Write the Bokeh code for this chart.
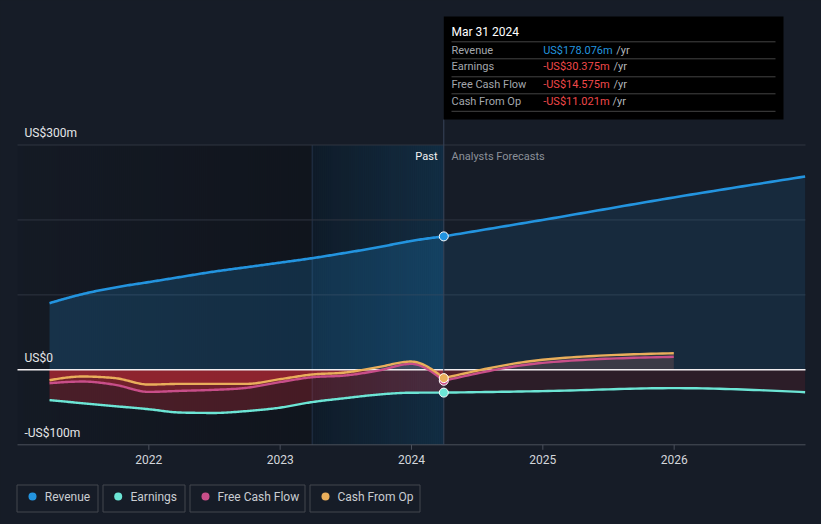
import re
import numpy as np
import pandas as pd
from bokeh.plotting import figure
from bokeh.models import Range1d
from bokeh.core.properties import value
from bokeh.embed import file_html
from bokeh.resources import INLINE

# ---------------- data (US$ millions) ----------------
past_dates = ["2021-03-31", "2021-06-30", "2021-09-30", "2021-12-31",
              "2022-03-31", "2022-06-30", "2022-09-30", "2022-12-31",
              "2023-03-31", "2023-06-30", "2023-09-30", "2023-12-31",
              "2024-03-31"]
revenue_past = [89, 101, 110, 117, 124, 131, 137, 143, 149, 156, 163.5, 172, 178.076]
earnings_past = [-40.4, -44.5, -48.5, -52.5, -57, -57.5, -55, -50.5, -43, -37.8, -33, -30.5, -30.375]
fcf_past = [-17.8, -15.6, -20, -29.4, -28, -26.7, -24, -16.4, -9.8, -7.6, -1, 8, -14.575]
cfo_past = [-13.8, -8.9, -11.1, -19.6, -18.7, -18.7, -18.7, -12.5, -6.2, -3.6, 3.6, 11.1, -11.021]

forecast_dates = ["2024-03-31", "2024-12-31", "2025-12-31", "2026-12-31"]
revenue_forecast = [178.076, 200.0, 230.0, 258.0]
earnings_forecast = [-30.375, -28.4, -24.4, -29.8]
cash_forecast_dates = ["2024-03-31", "2024-12-31", "2025-12-31"]
fcf_forecast = [-14.575, 9.3, 17.4]
cfo_forecast = [-11.021, 13.4, 22.2]

highlight_start = "2023-03-31"
tick_years = [2022, 2023, 2024, 2025, 2026]
tick_labels = ["2022", "2023", "2024", "2025", "2026"]
grid_values = [100, 200, 300]
y_label_values = [300, 0, -100]
y_label_texts = ["US$300m", "US$0", "-US$100m"]

series_names = ["Revenue", "Earnings", "Free Cash Flow", "Cash From Op"]
series_colors = ["#2394DF", "#6CE5D5", "#C84E89", "#E9AE5B"]

tooltip_title = "Mar 31 2024"
tooltip_values = ["US$178.076m", "-US$30.375m", "-US$14.575m", "-US$11.021m"]
tooltip_value_colors = ["#2394DF", "#F0484A", "#F0484A", "#F0484A"]

# ---------------- helpers ----------------
def decimal_year(s):
    t = pd.Timestamp(s)
    y0 = pd.Timestamp(year=t.year, month=1, day=1)
    y1 = pd.Timestamp(year=t.year + 1, month=1, day=1)
    return t.year + (t - y0) / (y1 - y0)


def monotone_curve(xs, ys, steps=24):
    x = np.asarray(xs, float)
    y = np.asarray(ys, float)
    n = len(x)
    h = np.diff(x)
    s = np.diff(y) / h
    m = np.zeros(n)
    for i in range(1, n - 1):
        s0, s1 = s[i - 1], s[i]
        p_ = (s0 * h[i] + s1 * h[i - 1]) / (h[i - 1] + h[i])
        m[i] = (np.sign(s0) + np.sign(s1)) * min(abs(s0), abs(s1), 0.5 * abs(p_))
    if n > 2:
        m[0] = (3 * s[0] - m[1]) / 2
        m[-1] = (3 * s[-1] - m[-2]) / 2
    else:
        m[:] = s[0]
    xo, yo = [], []
    for i in range(n - 1):
        t = np.linspace(0, 1, steps, endpoint=(i == n - 2))
        h00 = 2 * t**3 - 3 * t**2 + 1
        h10 = t**3 - 2 * t**2 + t
        h01 = -2 * t**3 + 3 * t**2
        h11 = t**3 - t**2
        yo.extend(h00 * y[i] + h10 * h[i] * m[i] + h01 * y[i + 1] + h11 * h[i] * m[i + 1])
        xo.extend(x[i] + t * h[i])
    return np.array(xo), np.array(yo)


BG = "#161c27"
FONT = value("Roboto")

W, H = 821, 524
# pixel anchors of the plotting area (page px)
PX_LEFT, PX_RIGHT = 17.0, 805.0      # 2021.0 .. 2027.0
PY_TOP, PY_BOTTOM = 144.5, 444.3     # 300 .. -100
YR0, YR1 = 2021.0, 2027.0
V0, V1 = -100.0, 300.0
sx = (PX_RIGHT - PX_LEFT) / (YR1 - YR0)
sy = (PY_BOTTOM - PY_TOP) / (V1 - V0)
x_start = YR0 - PX_LEFT / sx
x_end = YR0 + (W - PX_LEFT) / sx
y_end = V1 + PY_TOP / sy
y_start = V1 - (H - PY_TOP) / sy


def X(px):
    return x_start + px / sx


def Y(py):
    return y_end - py / sy


def PX(x):
    return (x - x_start) * sx


xp = [decimal_year(d) for d in past_dates]
xf = [decimal_year(d) for d in forecast_dates]
xcf = [decimal_year(d) for d in cash_forecast_dates]
x_hl = decimal_year(highlight_start)
x_now = xp[-1]

p = figure(width=W, height=H, x_range=Range1d(x_start, x_end), y_range=Range1d(y_start, y_end),
           output_backend="svg", toolbar_location=None, x_axis_location=None,
           y_axis_location=None, min_border=0)
p.background_fill_color = BG
p.border_fill_color = BG
p.outline_line_color = None
p.grid.visible = False
p.styles = {"background-color": BG}

# past background: darkening gradient in whole-pixel strips (no seams)
def strips(px0, px1, step):
    e = np.arange(int(round(px0)), int(round(px1)) + 1, step).astype(float)
    if e[-1] < round(px1):
        e = np.append(e, float(round(px1)))
    return [X(v) for v in e[:-1]], [X(v) for v in e[1:]]

l, r = strips(PX_LEFT, PX(x_hl), 2)
n = len(l)
p.quad(left=l, right=r, top=[V1] * n, bottom=[V0] * n, fill_color="#000000",
       fill_alpha=list(np.linspace(0.05, 0.25, n)), line_color=None)
# last year of the past: dark base plus blue gradient
l, r = strips(PX(x_hl), PX(x_now), 2)
n = len(l)
p.quad(left=l, right=r, top=[V1] * n, bottom=[V0] * n, fill_color="#0f1a26",
       fill_alpha=1.0, line_color=None)
p.quad(left=l, right=r, top=[V1] * n, bottom=[V0] * n, fill_color="#2394DF",
       fill_alpha=list(np.linspace(0.02, 0.16, n)), line_color=None)
p.segment(x0=[x_hl], y0=[V1], x1=[x_hl], y1=[V0], line_color="#23344a", line_width=1)

# gridlines
p.segment(x0=[YR0] * 3, y0=grid_values, x1=[YR1] * 3, y1=grid_values,
          line_color="#2f3540", line_width=1)

# series curves
past_series = [revenue_past, earnings_past, fcf_past, cfo_past]
fc_series = [(xf, revenue_forecast), (xf, earnings_forecast), (xcf, fcf_forecast), (xcf, cfo_forecast)]
curves = []
for ys_p, (xs_f, ys_f) in zip(past_series, fc_series):
    curves.append((monotone_curve(xp, ys_p), monotone_curve(xs_f, ys_f)))

# revenue fill
(rxp, ryp), (rxf, ryf) = curves[0]
p.varea(x=rxp, y1=0, y2=ryp, fill_color="#2394DF", fill_alpha=0.2)
p.varea(x=rxf, y1=0, y2=ryf, fill_color="#2394DF", fill_alpha=0.12)

# negative (red) and positive fills for the other series
for k in (1, 2, 3):
    (cxp, cyp), (cxf, cyf) = curves[k]
    p.varea(x=cxp, y1=0, y2=np.minimum(cyp, 0), fill_color="#E5303A", fill_alpha=0.26)
    p.varea(x=cxf, y1=0, y2=np.minimum(cyf, 0), fill_color="#E5303A", fill_alpha=0.11)
    if k > 1:
        p.varea(x=cxp, y1=0, y2=np.maximum(cyp, 0), fill_color=series_colors[k], fill_alpha=0.12)
        p.varea(x=cxf, y1=0, y2=np.maximum(cyf, 0), fill_color=series_colors[k], fill_alpha=0.1)

# zero line
p.segment(x0=[YR0], y0=[0], x1=[YR1], y1=[0], line_color="#f1eef0", line_width=1.5)

# x axis (baseline, ticks, labels)
p.segment(x0=[YR0], y0=[V0], x1=[YR1], y1=[V0], line_color="#4a505b", line_width=1)
p.segment(x0=tick_years, y0=[V0] * 5, x1=tick_years, y1=[Y(PY_BOTTOM + 5)] * 5,
          line_color="#4a505b", line_width=1)
p.text(x=tick_years, y=[Y(458.5)] * 5, text=tick_labels, text_font=FONT,
       text_font_size="12px", text_color="#d3d6db", text_align="center",
       text_baseline="middle")

# vertical "now" line
p.segment(x0=[x_now], y0=[Y(119)], x1=[x_now], y1=[V0], line_color="#39455a", line_width=1)

# lines
for k in (1, 2, 3, 0):
    (cxp, cyp), (cxf, cyf) = curves[k]
    p.line(np.concatenate([cxp, cxf]), np.concatenate([cyp, cyf]),
           line_color=series_colors[k], line_width=2.6 if k == 0 else 2.4, line_join="round")

# markers at latest actual
last_vals = [revenue_past[-1], earnings_past[-1], fcf_past[-1], cfo_past[-1]]
for k in (0, 1, 2, 3):
    p.scatter(x=[x_now], y=[last_vals[k]], size=9, fill_color=series_colors[k],
              line_color="#ffffff", line_width=1)

# y labels inside the plot
p.text(x=[X(24)] * 3, y=[v + 12 / sy for v in y_label_values], text=y_label_texts,
       text_font=FONT, text_font_size="12px", text_color="#e4e6e9",
       text_align="left", text_baseline="middle")

# Past / Analysts Forecasts
p.text(x=[X(437)], y=[Y(156)], text=["Past"], text_font=FONT, text_font_size="11px",
       text_color="#f2f2f2", text_align="right", text_baseline="middle")
p.text(x=[X(451)], y=[Y(156)], text=["Analysts Forecasts"], text_font=FONT,
       text_font_size="11px", text_color="#8b9099", text_align="left", text_baseline="middle")

# tooltip box
p.quad(left=x_now, right=X(783), top=Y(16), bottom=Y(119), fill_color="#000000",
       line_color=None)
sep_y = [Y(41.3), Y(58.3), Y(76.3), Y(93.3), Y(110.8)]
p.segment(x0=[X(451)] * 5, y0=sep_y, x1=[X(775)] * 5, y1=sep_y, line_color="#444444", line_width=1)
p.text(x=[X(451)], y=[Y(31.5)], text=[tooltip_title], text_font=FONT, text_font_size="12px",
       text_color="#ffffff", text_align="left", text_baseline="middle")
row_y = [Y(49.5), Y(66.3), Y(84), Y(101)]
p.text(x=[X(451)] * 4, y=row_y, text=series_names, text_font=FONT, text_font_size="11px",
       text_color="#a3a7ad", text_align="left", text_baseline="middle")
p.text(x=[X(542.7)] * 4, y=row_y, text=tooltip_values, text_font=FONT, text_font_size="11px",
       text_color=tooltip_value_colors, text_align="left", text_baseline="middle")
p.text(x=[X(615.7), X(613), X(613), X(612)], y=row_y, text=["/yr"] * 4, text_font=FONT,
       text_font_size="11px", text_color="#b3b6bb", text_align="left", text_baseline="middle")

# legend boxes
box_left = [16.5, 102.5, 189.5, 309.5]
box_right = [97.5, 184.5, 304.5, 419.5]
dot_x = [32, 117.7, 205, 325]
text_x = [44.3, 130, 217, 337]
p.quad(left=[X(v) for v in box_left], right=[X(v) for v in box_right],
       top=[Y(484.5)] * 4, bottom=[Y(511.5)] * 4,
       fill_color=None, line_color="#42464f", line_width=1)
p.scatter(x=[X(v) for v in dot_x], y=[Y(496)] * 4, size=8, fill_color=series_colors, line_color=None)
p.text(x=[X(v) for v in text_x], y=[Y(496.5)] * 4, text=series_names, text_font=FONT,
       text_font_size="12px", text_color="#c9ccd1", text_align="left", text_baseline="middle")

html = file_html(p, INLINE)
html = html.replace("</head>",
                    "<style>html, body { background-color: %s !important; margin: 0 !important; "
                    "padding: 0 !important; overflow: hidden; }</style></head>" % BG, 1)
open("out.html", "w").write(html)
